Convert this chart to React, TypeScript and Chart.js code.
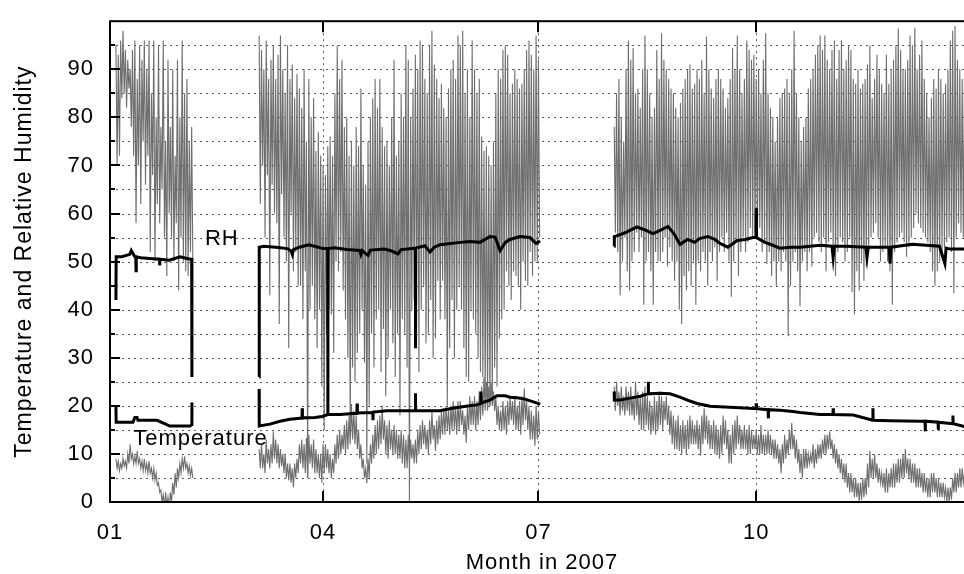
import React, { useEffect, useRef } from 'react';
import { Chart, registerables } from 'chart.js';

Chart.register(...registerables);

// ---------- axis / tick data ----------
const monthTickDays = [0, 90, 181, 273];
const monthTickLabels = ['01', '04', '07', '10'];
const xMaxDay = 365;
const yMin = 0;
const yMax = 100;

// ---------- outdoor series: (high, low) pairs every 12 h, from segment start day ----------
const outdoorStartDays = [2.5, 63, 213];

const outdoorRhJan = [95,70, 93,72, 96,84, 98,85, 94,82, 92,86, 90,78, 94,72, 96,58, 88,70, 95,62, 92,75, 96,66, 90,72, 96,52, 85,68, 96,50, 80,62, 95,58, 78,65, 96,55, 75,47, 92,60, 78,55, 90,50, 72,58, 92,44, 80,55, 96,50, 85,48, 88,47, 75,52, 78,50];

const outdoorRhSpring = [97,62, 94,70, 90,55, 96,68, 88,43, 92,66, 95,60,
  88,58, 93,37, 97,64, 90,55, 85,50, 95,32, 88,60, 91,48, 84,52, 89,45,
  86,45, 82,38, 90,48, 75,5, 88,40, 80,45, 84,38, 73,32, 77,40, 72,24,
  70,15, 68,35, 74,40, 76,39, 72,31, 85,50, 95,48, 88,52, 92,44, 78,38,
  80,30, 72,14, 75,28, 70,25, 78,31, 74,35, 86,40, 70,29, 66,8, 75,20,
  80,35, 84,28, 88,38, 82,40, 88,27, 78,36, 74,22, 75,30, 70,40, 80,33,
  92,26, 72,35, 75,18, 85,38, 80,35, 95,28, 92,0, 80,40, 86,42, 93,36,
  90,27, 96,40, 95,45, 88,33, 85,35, 95,42, 98,30, 91,34, 88,46, 84,38,
  87,46, 82,38, 80,20, 86,32, 90,42, 92,30, 88,40, 97,45, 95,40, 98,32,
  85,26, 90,25, 80,40, 96,38, 90,35, 85,30, 88,27, 76,26, 73,22, 74,20,
  72,20, 70,21, 75,28, 85,24, 90,34, 88,38, 94,40, 95,48, 93,45, 85,42,
  87,48, 90,47, 88,45, 86,40, 87,50, 90,46, 94,45, 96,52, 93,47, 90,50, 97,50, 92,55];

const outdoorRhAutumn = [78,56, 85,52, 88,43, 80,50, 75,55, 90,48, 96,44, 92,50, 94.5,52, 85,56,
  86,52, 82,55, 90,41, 97,50, 90,52, 85,48, 80,41, 82,52, 94,50, 88,50,
  97.5,52, 92,55, 90,49, 88,53, 86,50, 85,46, 82,50, 80,40, 83,37, 86,47,
  88,44, 90,48, 91,45, 86,50, 87,41, 90,50, 88,48, 92,52, 85,50, 96.8,45,
  90,52, 86,50, 84,53, 88,46, 90,52, 88,55, 86,52, 82,56, 84,50, 88,42.7,
  94.5,50, 90,54, 97,47, 90,52, 85,55, 88,52, 96,54, 94,57, 92,55, 93,56,
  88,55, 90,57, 85,52, 92,54, 97.5,49.5, 85,52, 82,47, 80,50, 75,44.8, 80,50,
  84,48, 85,52, 86,50, 88,34.5, 85,45, 90,50, 98,52, 85,48, 80,40.7, 75,50,
  78,52, 80,48, 86,52, 88,49, 90,55, 93,56, 95,54, 97,52, 94,55, 97,48,
  92,54, 90,56, 94,52, 96,47, 88,52, 94,55, 96,54, 90,50, 92,52, 95,55,
  94,43.7, 88,39, 87,48, 90,44, 86,50, 87,46, 88,49, 91,52, 95,55, 84,56,
  88,58, 93,55, 90,50, 87,52, 85,53, 93,50, 87,48, 90,41, 92,52, 95,54,
  98.5,55, 94,56, 90,54, 90,51, 92,53, 97,55, 95,57, 98.7,60, 90,58, 93,57,
  96,56, 88,55, 85,54, 80,52, 84,48, 88,45, 86,48, 90,50, 88,52, 85,53,
  87,54, 90,55, 96,52, 98,43.4, 99,55, 92,58, 90,56, 88,55, 90,57, 92,55,
  90,56, 88,55];

const outdoorTempJan = [9,7, 8.5,6.5, 8,7, 9,7.5, 8.5,7, 10,8, 12,9, 10,8, 9.5,8, 10.6,8, 9,7, 8.5,6.5, 9,6.5, 8,6, 8.5,6, 7,5, 7,4.5, 6,3.5, 4,2, 2.5,0, 1.5,-1, 2,-1, 1,-1.5, 2,0, 4,1.5, 6,3, 7,5, 8,6, 9,7, 9.5,7, 8,6, 7.5,5.5, 7,5];

const outdoorTempSpring = [11,7, 12,7, 10,6, 13,8, 11,7, 12,8, 14.7,9,
  13,8, 12,7, 11,7.5, 10,6, 10,5, 8,4.5, 8,4, 7,3, 8,5, 9,6,
  12,8, 13,7, 12,6, 13.3,5, 14,8, 12,7, 13,6, 11,6, 10,5, 10,4,
  12,6, 12,7, 11,6, 10,5, 9,6, 12,8, 14,9, 15,10, 14,11, 16,10,
  17,11, 18,12, 20.4,13, 19,12, 18,11, 15,9, 12,7, 9,5, 7,3.9, 9,5,
  12,8, 14,9, 16,10, 17,11, 18,12, 20,13, 17,10, 16,9, 17,11, 15,10,
  16,10, 15,9, 14,9, 15,8, 14,7, 13,7, 14,8, 13,9, 12,8, 13,8,
  15,10, 16,11, 17,12, 16,11, 15,10, 17,12, 19,13, 16,10.6, 17,12, 18,13,
  19,14, 19.5,14, 20,15, 19,14, 20,15, 21,15, 20,14, 21,15, 21,16, 19,14,
  18,12.3, 20,15, 22,16, 21,16, 22,15, 21,16, 23,17, 24,18, 26,19, 25,19,
  24,20, 25,20, 23,19, 22,16, 20,15, 19,14.7, 21,15, 20,14, 21,16, 22,17,
  21,16, 22,15, 20,15, 21,14, 22,16, 23.6,17, 21,15, 20,13, 19,13, 18,11.7, 20,13, 19,14];

const outdoorTempAutumn = [24,19, 25,20, 23,18, 24,19, 22,18, 24,19, 23,18, 24,18, 22,17, 25,18,
  23,16, 22,15, 23,15, 24,16, 22,15, 21,14, 20,14.7, 22,14, 21,15, 23,16,
  22,15, 21,17, 22,16, 20,14, 19,12, 18,11, 17,11, 18,10.6, 16,10, 17,11,
  16,10, 17,11, 18,12, 17,12, 16,12, 17,11, 16,9.6, 18,12, 19.5,13, 18,12,
  17,11, 16,11, 17,10, 16,10, 15,9, 16,10, 18,12, 17,11, 15,8, 14,8,
  16,10, 17,11, 18,12, 16,11, 15,11, 16,11, 15,10, 16,10, 15,11, 14,11,
  15,10, 14,10, 16,10, 14,10, 14,10, 15,10, 14,10, 13,9, 13,9, 12,8,
  11,6, 12,8, 14,9, 13,10, 15,11, 16.4,11, 14,9, 13,8, 11,6, 10,5,
  11,7, 11,7, 10,8, 10,8, 12,7, 11,8, 12,9, 12,9, 13,10, 14,10,
  14,11, 14.7,11, 13,9, 12,8, 11,7, 10,6, 9,5, 8,4, 8,3, 6,2,
  6,2, 5,1, 5,1, 4,0, 4,0.5, 5,1, 5,1.5, 8,3, 10.6,5, 9,5,
  10,5, 8,4, 7,4, 6,3, 6,2, 7,2, 6,3, 7,3, 8,3, 8,4,
  9,4, 9,5, 10,5, 11,6, 9,5, 9,4, 8,4, 8,3, 7,3, 7,3,
  6,2, 6,2, 5,1, 5,1, 6,2, 6,2, 5,1, 5,1, 4,1, 4,1,
  3,0, 3,0, 3,0.5, 5,2, 6,2, 6,3, 7,3, 7,4, 6,4, 6,4,
  6,3, 7,4];

// ---------- indoor series: (day, value) ----------
const indoorRhDaysJan = [2.5, 2.6, 5, 8.4, 9, 10.5, 10.9, 11, 11.1, 13, 18, 20.9, 21, 21.1, 25, 29.6, 33, 34.5, 34.6];
const indoorRhJan = [42, 51, 51, 51.5, 52.3, 51, 51, 48.1, 51, 50.8, 50.6, 50.5, 49.2, 50.5, 50.3, 51, 50.6, 50.5, 26];
const indoorRhDaysSpring = [63, 63.05, 65, 70, 75, 76.5, 77, 77.5, 80, 84, 88, 90, 92, 92.05, 92.1, 95, 100, 105.5, 106, 106.5, 109, 110, 116, 119, 121.7, 123, 129, 129.05, 129.1, 133, 135.2, 137, 139.4, 148, 152, 156.3, 158.4, 160.5, 162.7, 164.8, 167, 169, 173.2, 177.4, 180, 181.7];
const indoorRhSpring = [26, 53, 53.2, 53, 52.7, 52.2, 51.5, 52.5, 53, 53.5, 53, 52.7, 52.7, 18.2, 52.7, 52.9, 52.5, 52.3, 51.5, 52.3, 51.3, 52.4, 52.6, 52.2, 51.6, 52.5, 52.8, 32, 52.8, 53.3, 52, 53, 53.5, 54, 54.2, 54, 54.6, 55.2, 55.1, 52.3, 54, 54.6, 55.2, 55, 53.8, 54.3];
const indoorRhDaysAutumn = [213, 213.05, 215.5, 217.6, 222.6, 226, 229.4, 232.4, 235.7, 238, 240.8, 244, 247, 249, 252.6, 255.6, 257.6, 261, 265, 268.3, 271.6, 272.9, 273, 273.1, 276.7, 280, 283, 287.3, 291.5, 300, 305, 305.5, 306, 311.4, 319.3, 319.8, 320.3, 329.2, 329.5, 330, 339, 350.4, 352.7, 353.2, 355, 361, 365];
const indoorRhAutumn = [53.2, 55.2, 55.6, 56, 57.2, 56.6, 55.8, 56.5, 57.3, 56, 53.6, 54.6, 54, 54.8, 55.2, 54.6, 53.8, 53, 54.4, 54.6, 55, 55, 61.1, 55, 54, 53.4, 52.8, 53, 53, 53.4, 53.2, 50.8, 53.2, 53.2, 53, 50.9, 53, 53, 49.6, 53, 53.6, 53.2, 49.6, 52.8, 52.6, 52.6, 52.6];

const indoorTempDaysJan = [2.5, 2.6, 9.7, 10.5, 11.4, 11.8, 19.9, 25.3, 33.8, 34.5, 34.6];
const indoorTempJan = [20, 16.6, 16.6, 17.6, 17.6, 17.0, 17.0, 15.8, 15.8, 16.1, 20.7];
const indoorTempDaysSpring = [63, 63.05, 67.6, 71.8, 76, 80.3, 81.1, 81.2, 81.3, 86.6, 89.6, 92.1, 97.2, 102.7, 104.3, 104.4, 104.5, 111, 111.1, 111.2, 117, 129, 129.05, 129.1, 139.4, 145.8, 152, 155, 156.6, 156.7, 156.8, 160.5, 163.5, 167, 169, 172, 175.3, 180.8, 181.7];
const indoorTempSpring = [23.5, 15.8, 16.2, 16.8, 17.2, 17.4, 17.4, 19.5, 17.5, 17.6, 17.8, 18.2, 18.2, 18.4, 18.4, 20.5, 18.5, 18.6, 17, 18.7, 19, 19, 22.6, 19, 19, 19.6, 20, 20.2, 20.5, 23, 20.6, 21.2, 22.1, 22.1, 21.8, 21.7, 21.4, 20.5, 20.3];
const indoorTempDaysAutumn = [213, 213.05, 215.5, 219.7, 224, 227.3, 227.4, 227.5, 232.4, 236.6, 240.8, 245, 248, 253.5, 257.6, 266, 272.9, 273, 273.1, 278, 278.1, 278.2, 283, 288.5, 291.5, 300, 305.4, 305.5, 305.6, 314, 322.2, 322.3, 322.4, 329.5, 342, 344.3, 344.4, 344.5, 349.8, 349.9, 350, 356, 356.1, 356.2, 360.8, 365];
const indoorTempAutumn = [23, 21.2, 21.2, 21.6, 22, 22.5, 25, 22.5, 22.6, 22.5, 21.8, 21, 20.5, 19.9, 19.8, 19.6, 19.4, 20.5, 19.4, 19.2, 17.4, 19.2, 19.1, 18.8, 18.6, 18.2, 18.2, 19.5, 18.2, 18.1, 17, 19.5, 17, 16.9, 16.8, 16.8, 14.7, 16.8, 16.6, 15, 16.6, 16.3, 18, 16.3, 15.7, 15.5];

// ---------- annotation labels ----------
const rhLabel = { text: 'RH', day: 40.1, value: 53.4 };
const tempLabel = { text: 'Temperature', day: 9.8, value: 11.8 };

const FONT = 'Liberation Sans';

type Pt = { x: number; y: number | null };

function buildHalfDaySeries(starts: number[], sets: number[][]): Pt[] {
  const pts: Pt[] = [];
  sets.forEach((vals, s) => {
    if (s > 0) pts.push({ x: starts[s] - 1, y: null });
    vals.forEach((v, i) => pts.push({ x: starts[s] + i * 0.5, y: v }));
  });
  return pts;
}

function buildDaySeries(daySets: number[][], valSets: number[][]): Pt[] {
  const pts: Pt[] = [];
  daySets.forEach((days, s) => {
    if (s > 0) pts.push({ x: days[0] - 1, y: null });
    days.forEach((d, i) => pts.push({ x: d, y: valSets[s][i] }));
  });
  return pts;
}

const decorPlugin = {
  id: 'decor',
  beforeDraw(chart: any) {
    chart.ctx.letterSpacing = '1px';
  },
  beforeDatasetsDraw(chart: any) {
    const { ctx, chartArea: a, scales } = chart;
    const x = scales.x, y = scales.y;
    ctx.save();
    ctx.strokeStyle = '#555';
    ctx.lineWidth = 1;
    ctx.setLineDash([2, 4]);
    ctx.beginPath();
    for (let v = 5; v < yMax; v += 5) {
      const py = Math.round(y.getPixelForValue(v)) + 0.5;
      ctx.moveTo(a.left, py);
      ctx.lineTo(a.right, py);
    }
    for (const d of monthTickDays.slice(1)) {
      const px = Math.round(x.getPixelForValue(d)) + 0.5;
      ctx.moveTo(px, a.top);
      ctx.lineTo(px, a.bottom);
    }
    ctx.stroke();
    ctx.restore();
  },
  afterDatasetsDraw(chart: any) {
    const { ctx, chartArea: a, scales } = chart;
    const x = scales.x, y = scales.y;
    ctx.save();
    ctx.strokeStyle = '#000';
    ctx.setLineDash([]);
    ctx.lineWidth = 2;
    ctx.strokeRect(a.left, a.top, a.right - a.left, a.bottom - a.top);
    ctx.beginPath();
    for (let v = 5; v < yMax; v += 5) {
      const py = Math.round(y.getPixelForValue(v));
      const len = v % 10 === 0 ? 10 : 5;
      ctx.moveTo(a.left, py);
      ctx.lineTo(a.left + len, py);
      ctx.moveTo(a.right, py);
      ctx.lineTo(a.right - len, py);
    }
    for (const d of monthTickDays) {
      const px = Math.round(x.getPixelForValue(d));
      ctx.moveTo(px, a.bottom);
      ctx.lineTo(px, a.bottom - 11);
      ctx.moveTo(px, a.top);
      ctx.lineTo(px, a.top + 11);
    }
    ctx.stroke();
    ctx.fillStyle = '#000';
    ctx.font = `22px "${FONT}"`;
    ctx.textAlign = 'left';
    ctx.textBaseline = 'alphabetic';
    for (const l of [rhLabel, tempLabel]) {
      ctx.fillText(l.text, x.getPixelForValue(l.day), y.getPixelForValue(l.value));
    }
    ctx.restore();
  },
};

export default function App() {
  const canvasRef = useRef<HTMLCanvasElement | null>(null);

  useEffect(() => {
    const canvas = canvasRef.current;
    if (!canvas) return;
    const outdoorRh = buildHalfDaySeries(outdoorStartDays, [outdoorRhJan, outdoorRhSpring, outdoorRhAutumn]);
    const outdoorTemp = buildHalfDaySeries(outdoorStartDays, [outdoorTempJan, outdoorTempSpring, outdoorTempAutumn]);
    const indoorRh = buildDaySeries([indoorRhDaysJan, indoorRhDaysSpring, indoorRhDaysAutumn], [indoorRhJan, indoorRhSpring, indoorRhAutumn]);
    const indoorTemp = buildDaySeries([indoorTempDaysJan, indoorTempDaysSpring, indoorTempDaysAutumn], [indoorTempJan, indoorTempSpring, indoorTempAutumn]);

    const tickFont = { family: FONT, size: 22 };
    const chart = new Chart(canvas, {
      type: 'line',
      data: {
        datasets: [
          { label: 'Indoor RH', data: indoorRh as any, borderColor: '#000', borderWidth: 3, pointRadius: 0, spanGaps: false },
          { label: 'Indoor temperature', data: indoorTemp as any, borderColor: '#000', borderWidth: 3, pointRadius: 0, spanGaps: false },
          { label: 'Outdoor RH', data: outdoorRh as any, borderColor: '#6e6e6e', borderWidth: 1.1, pointRadius: 0, spanGaps: false },
          { label: 'Outdoor temperature', data: outdoorTemp as any, borderColor: '#6e6e6e', borderWidth: 1.1, pointRadius: 0, spanGaps: false },
        ],
      },
      options: {
        animation: false,
        responsive: false,
        maintainAspectRatio: false,
        parsing: false as any,
        normalized: true,
        layout: { padding: { left: 0, right: 16, top: 14, bottom: 0 } },
        plugins: { legend: { display: false }, tooltip: { enabled: false } },
        elements: { point: { radius: 0 }, line: { tension: 0 } },
        scales: {
          x: {
            type: 'linear',
            min: 0,
            max: xMaxDay,
            grid: { display: false },
            border: { display: false },
            afterBuildTicks: (s: any) => { s.ticks = monthTickDays.map((v) => ({ value: v })); },
            afterFit: (s: any) => { s.height = 72; },
            ticks: {
              autoSkip: false,
              maxRotation: 0,
              padding: 10,
              color: '#000',
              font: tickFont,
              callback: (v: any) => {
                const i = monthTickDays.indexOf(Number(v));
                return i >= 0 ? monthTickLabels[i] : '';
              },
            },
            title: { display: true, text: 'Month in 2007', color: '#000', font: { family: FONT, size: 22, lineHeight: 1.0 }, padding: { top: 0, bottom: 0 } },
          },
          y: {
            type: 'linear',
            min: yMin,
            max: yMax,
            grid: { display: false },
            border: { display: false },
            afterFit: (s: any) => { s.width = 110; },
            ticks: {
              stepSize: 5,
              autoSkip: false,
              padding: 8,
              color: '#000',
              font: tickFont,
              callback: (v: any) => (Number(v) % 10 === 0 && Number(v) < yMax ? String(v) : ''),
            },
            title: { display: true, text: 'Temperature and Relative Humidity', color: '#000', font: { family: FONT, size: 23 }, padding: { top: 11, bottom: 0 } },
          },
        },
      },
      plugins: [decorPlugin],
    });
    return () => chart.destroy();
  }, []);

  return (
    <div style={{ position: 'fixed', left: 0, top: 0, width: 990, height: 574, background: '#fff' }}>
      <canvas ref={canvasRef} width={990} height={574} style={{ width: 990, height: 574, display: 'block' }} />
    </div>
  );
}
